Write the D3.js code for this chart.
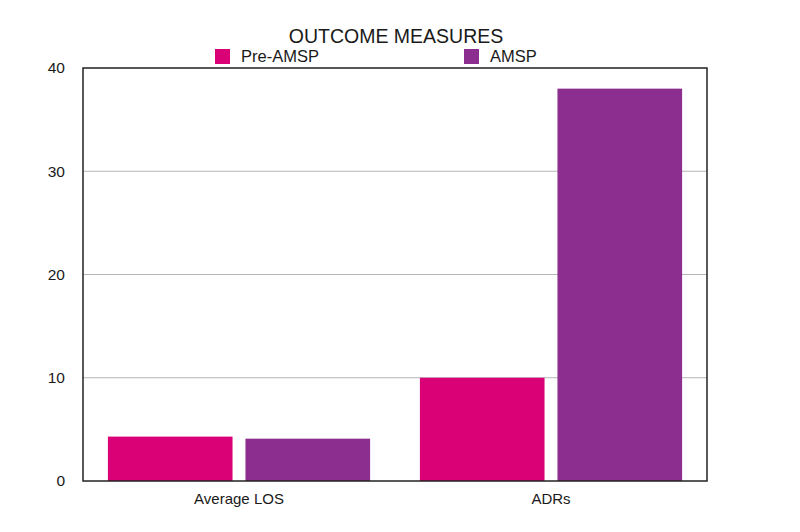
<!DOCTYPE html>
<html>
<head>
<meta charset="utf-8">
<script src="https://cdn.jsdelivr.net/npm/d3@7"></script>
<style>
  body { margin: 0; background: #fff; }
  text { font-family: "Liberation Sans", Arial, sans-serif; fill: #1a1a1a; }
</style>
</head>
<body>
<svg id="chart" width="800" height="532"></svg>
<script>
// Data
const categories = ["Average LOS", "ADRs"];
const seriesNames = ["Pre-AMSP", "AMSP"];
const preAmsp = [4.3, 10];
const amsp = [4.1, 38];
const yTicks = [0, 10, 20, 30, 40];

const colors = { "Pre-AMSP": "#da0075", "AMSP": "#8c2d90" };

// Layout
const margin = { top: 68, right: 93, bottom: 51, left: 83 };
const width = 800 - margin.left - margin.right;
const height = 532 - margin.top - margin.bottom;

const svg = d3.select("#chart")
    .append("g")
    .attr("transform", `translate(${margin.left},${margin.top})`);

const rows = categories.map((c, i) => ({ category: c, values: [preAmsp[i], amsp[i]] }));

// Scales
const x0 = d3.scaleBand()
    .domain(categories)
    .range([0, width])
    .padding(0);

const x1 = d3.scaleBand()
    .domain(seriesNames)
    .range([0, x0.bandwidth()])
    .paddingInner(0.094)
    .paddingOuter(0.181);

const y = d3.scaleLinear()
    .domain([0, 40])
    .range([height, 0]);

// Gridlines
svg.selectAll(".grid")
    .data(yTicks.filter(t => t > 0 && t < 40))
    .enter().append("line")
    .attr("class", "grid")
    .attr("x1", 0)
    .attr("x2", width)
    .attr("y1", d => y(d))
    .attr("y2", d => y(d))
    .attr("stroke", "#b5b5b5")
    .attr("stroke-width", 1);

// Bars
const groups = svg.selectAll(".group")
    .data(rows)
    .enter().append("g")
    .attr("class", "group")
    .attr("transform", d => `translate(${x0(d.category)},0)`);

groups.selectAll("rect")
    .data(d => d.values.map((v, i) => ({ key: seriesNames[i], value: v })))
    .enter().append("rect")
    .attr("x", d => x1(d.key))
    .attr("y", d => y(d.value))
    .attr("width", x1.bandwidth())
    .attr("height", d => height - y(d.value))
    .attr("fill", d => colors[d.key]);

// Frame
svg.append("rect")
    .attr("x", 0)
    .attr("y", 0)
    .attr("width", width)
    .attr("height", height)
    .attr("fill", "none")
    .attr("stroke", "#222")
    .attr("stroke-width", 1.5);

// Y axis labels
const yAxis = svg.append("g")
    .call(d3.axisLeft(y).tickValues(yTicks).tickSize(0).tickPadding(18));
yAxis.select(".domain").remove();
yAxis.selectAll("text")
    .attr("font-size", 15.5)
    .attr("fill", "#1a1a1a")
    .style("font-family", "'Liberation Sans', Arial, sans-serif");

// X axis labels
const xAxis = svg.append("g")
    .attr("transform", `translate(0,${height})`)
    .call(d3.axisBottom(x0).tickSize(0).tickPadding(12));
xAxis.select(".domain").remove();
xAxis.selectAll("text")
    .attr("font-size", 15)
    .attr("fill", "#1a1a1a")
    .style("font-family", "'Liberation Sans', Arial, sans-serif");

// Title
svg.append("text")
    .attr("x", width / 2 + 1)
    .attr("y", -25)
    .attr("text-anchor", "middle")
    .attr("font-size", 19.5)
    .text("OUTCOME MEASURES");

// Legend
const legendX = [132, 381];
const legend = svg.selectAll(".legend")
    .data(seriesNames)
    .enter().append("g")
    .attr("class", "legend")
    .attr("transform", (d, i) => `translate(${legendX[i]},-19)`);

legend.append("rect")
    .attr("width", 15)
    .attr("height", 15)
    .attr("fill", d => colors[d]);

legend.append("text")
    .attr("x", 26)
    .attr("y", 13)
    .attr("font-size", 16.5)
    .text(d => d);
</script>
</body>
</html>
